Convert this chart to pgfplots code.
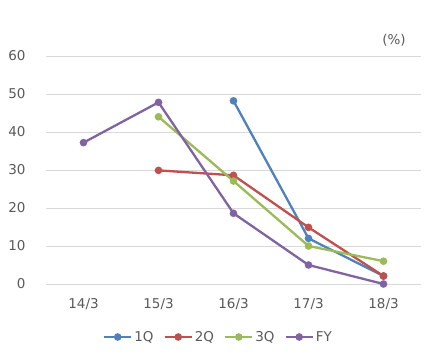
\documentclass[border=0pt]{standalone}
\usepackage{fontspec}
\setmainfont{DejaVu Sans}
\usepackage{pgfplots}
\pgfplotsset{compat=1.18}
\definecolor{cA}{HTML}{4F81BD}
\definecolor{cB}{HTML}{C0504D}
\definecolor{cC}{HTML}{9BBB59}
\definecolor{cD}{HTML}{8064A2}
\definecolor{gridgray}{HTML}{D9D9D9}
\definecolor{textgray}{HTML}{595959}
\begin{document}
\begin{tikzpicture}[x=1pt,y=1pt]
\useasboundingbox (0,0) rectangle (437,361);
\begin{axis}[
  at={(46pt,77pt)}, anchor=south west,
  scale only axis, width=375pt, height=228pt,
  xmin=-0.5, xmax=4.5, ymin=0, ymax=60,
  ytick={0,10,20,30,40,50,60},
  xtick={0,1,2,3,4},
  xticklabels={14/3,15/3,16/3,17/3,18/3},
  axis line style={draw=none},
  major tick length=0pt,
  ymajorgrids,
  grid style={color=gridgray, line width=0.8pt},
  tick label style={font=\fontsize{13.5}{15}\selectfont, text=textgray},
  /pgf/number format/assume math mode=true,
  yticklabel style={anchor=east, xshift=-17pt},
  xticklabel style={anchor=north, yshift=-11pt},
  clip=false,
  every axis plot/.append style={line width=2.3pt, mark=*, mark size=2.6pt},
  legend columns=4,
  legend style={at={(0.46,-0.2325)}, anchor=center, draw=none, fill=none,
    font=\fontsize{13.5}{15}\selectfont, text=textgray,
    /tikz/every even column/.append style={column sep=8pt}},
  legend image code/.code={\draw[mark repeat=2,mark phase=2,#1] plot coordinates {(0pt,0pt) (13.5pt,0pt) (27pt,0pt)};},
]
\addplot[color=cA] coordinates {(2,48.2) (3,12.0) (4,2.1)};
\addlegendentry{1Q}
\addplot[color=cB] coordinates {(1,29.9) (2,28.6) (3,14.9) (4,2.1)};
\addlegendentry{2Q}
\addplot[color=cC] coordinates {(1,44.0) (2,27.1) (3,10.0) (4,6.0)};
\addlegendentry{3Q}
\addplot[color=cD] coordinates {(0,37.2) (1,47.8) (2,18.6) (3,5.0) (4,0.0)};
\addlegendentry{FY}
\end{axis}
\node[text=textgray, font=\fontsize{13.5}{15}\selectfont] at (394,321) {(\%)};
\end{tikzpicture}
\end{document}
